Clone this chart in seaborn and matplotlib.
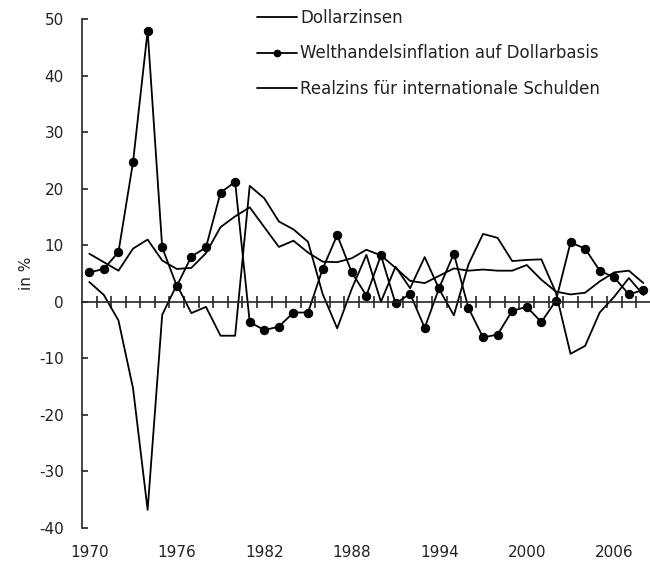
import numpy as np
import pandas as pd
import matplotlib
matplotlib.use("Agg")
import matplotlib.pyplot as plt
import seaborn as sns

years = list(range(1970, 2009))

# Dollarzinsen
zinsen = [8.5, 7.0, 5.5, 9.4, 11.0, 7.3, 5.8, 6.0, 8.6, 13.2,
          15.1, 16.7, 13.2, 9.7, 10.8, 8.7, 7.1, 7.0, 7.7, 9.2,
          8.2, 6.0, 3.7, 3.3, 4.6, 5.9, 5.5, 5.7, 5.5, 5.5,
          6.5, 3.9, 1.8, 1.3, 1.6, 3.6, 5.2, 5.5, 3.3]

# Welthandelsinflation auf Dollarbasis
inflation = [5.2, 5.8, 8.8, 24.7, 47.9, 9.6, 2.8, 8.0, 9.6, 19.3,
             21.2, -3.6, -5.0, -4.4, -1.9, -1.9, 5.8, 11.8, 5.2, 1.1,
             8.2, -0.3, 1.4, -4.6, 2.5, 8.5, -1.1, -6.3, -5.8, -1.6,
             -0.9, -3.6, 0.2, 10.5, 9.4, 5.5, 4.3, 1.3, 2.1]

# Realzins fuer internationale Schulden
realzins = [3.5, 1.2, -3.3, -15.3, -36.8, -2.3, 3.0, -2.0, -0.9, -6.0,
            -6.0, 20.5, 18.3, 14.2, 12.8, 10.6, 1.4, -4.7, 2.3, 8.3,
            0.0, 6.2, 2.4, 7.9, 2.2, -2.4, 6.6, 12.0, 11.3, 7.2,
            7.4, 7.5, 1.6, -9.2, -7.8, -1.9, 0.9, 4.2, 1.2]

labels = ["Dollarzinsen",
          "Welthandelsinflation auf Dollarbasis",
          "Realzins für internationale Schulden"]
year_ticks = [1970, 1976, 1982, 1988, 1994, 2000, 2006]

sns.set_style("ticks")
plt.rcParams["font.family"] = ["DejaVu Sans"]
plt.rcParams["font.size"] = 11
plt.rcParams["axes.unicode_minus"] = False

fig = plt.figure(figsize=(6.5, 5.67), dpi=100)
ax = fig.add_axes([82/650, 1-528/567, 1-82/650, (528-19)/567])

lw = 1.3
sns.lineplot(x=years, y=zinsen, ax=ax, color="black", lw=lw, label=labels[0])
sns.lineplot(x=years, y=inflation, ax=ax, color="black", lw=lw, marker="o",
             markersize=6, markeredgecolor="black", label=labels[1])
sns.lineplot(x=years, y=realzins, ax=ax, color="black", lw=lw, label=labels[2])

ax.set_xlim(1969.5, 2008.45)
ax.set_ylim(-40, 50)
ax.set_yticks(range(-40, 51, 10))
ax.tick_params(axis="y", direction="in", length=4, width=1.2, pad=13,
               labelsize=11, colors="#222222")
ax.set_ylabel("in %", fontsize=11, labelpad=4, color="#222222")

# x axis line at zero with year ticks between the points
ax.spines["bottom"].set_position(("data", 0))
ax.spines["top"].set_visible(False)
ax.spines["right"].set_visible(False)
for s in ["left", "bottom"]:
    ax.spines[s].set_linewidth(1.2)
ax.set_xticks(np.arange(1970.5, 2008, 1))
ax.tick_params(axis="x", direction="inout", length=8, width=1.2, labelbottom=False)

sec = ax.secondary_xaxis("bottom")
sec.set_xticks(year_ticks)
sec.spines["bottom"].set_visible(False)
sec.tick_params(length=0, pad=12, labelsize=11, colors="#222222")

leg = ax.legend(loc="upper left", bbox_to_anchor=(257/650, 1-9/567),
                bbox_transform=fig.transFigure, frameon=False, fontsize=12,
                handlelength=2.4, handletextpad=0.2, labelspacing=1.05,
                borderpad=0, borderaxespad=0, markerscale=0.8)
for t in leg.get_texts():
    t.set_color("#222222")

plt.savefig("out.png", dpi=100)
